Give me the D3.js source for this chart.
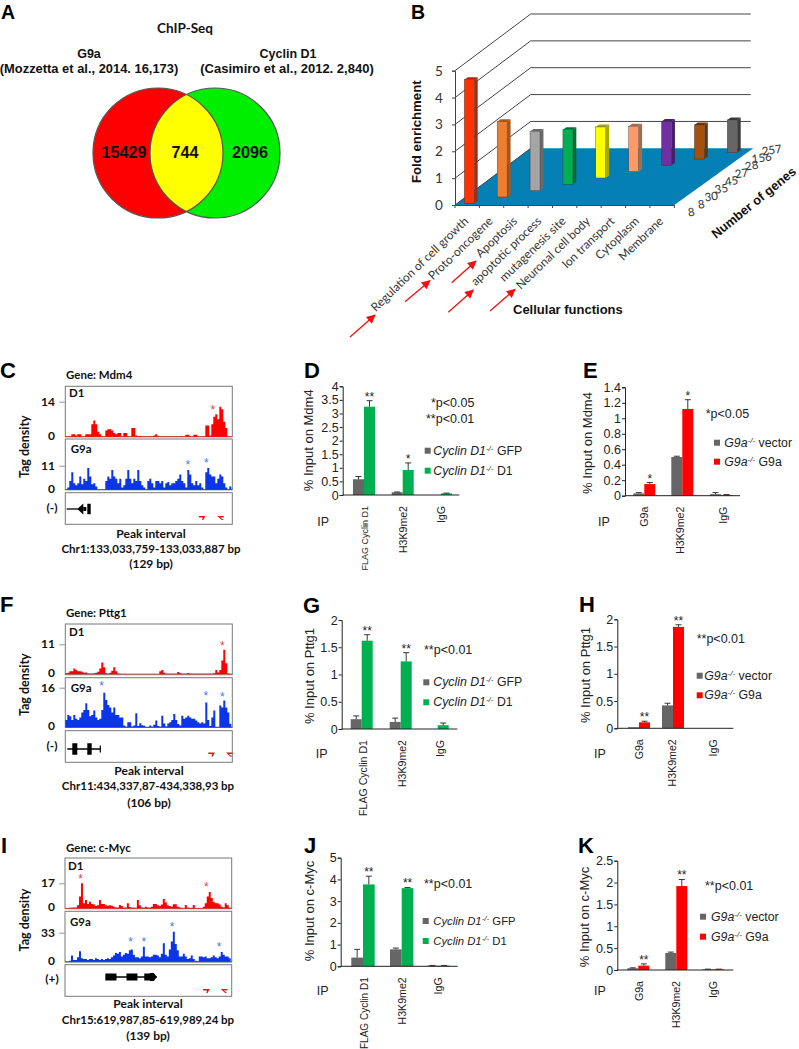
<!DOCTYPE html>
<html><head><meta charset="utf-8">
<script src="https://cdn.jsdelivr.net/npm/d3@7/dist/d3.min.js"></script>
<style>
html,body{margin:0;padding:0;background:#fff}
svg{display:block}
.ar{font-family:"Liberation Sans",Arial,sans-serif}
.la{font-family:Lato,sans-serif}
</style></head><body>
<script>
// ---------- Panel A ----------
const vennCounts = [15429, 744, 2096];
// ---------- Panel B ----------
const bCategories = ["Regulation of cell growth","Proto-oncogene","Apoptosis","apoptotic process","mutagenesis site","Neuronal cell body","Ion transport","Cytoplasm","Membrane"];
const bFold = [4.6,2.8,2.2,2.03,1.9,1.69,1.63,1.27,1.22];
const bGenes = ["8","8","30","35","45","27","28","156","257"];
const bFront = ["#ff3300","#ed7d31","#a5a5a5","#00b050","#ffff00","#ff9966","#7030a0","#a5500f","#666666"];
const bSide = ["#a82a10","#a55520","#6a6a6a","#0a6b35","#a8a800","#a86a48","#46206a","#6b3508","#3a3a3a"];
const bTicks = [0,1,2,3,4,5];
// ---------- Tag density tracks ----------
const cD1 = [0,0,0,1,1,.5,1,1,0,0, 1,1,1,5,6.5,5,2,1,0,0, 2.5,3,3,2.5,1.5,1,1.5,1.5,0,1.5, 1.5,0,0,3.5,3.5,.5,.2,.2,.2,0, .2,0,.2,0,.5,1,.2,0,0,.2, 0,.1,0,.1,0,.1,0,.1,.2,0, .8,.8,.2,0,.8,.8,0,0,0,0, 4.5,4.5,.5,5,8,9,7,12,11,6, 3.5,0,0,0];
const cG9a = [0,1,4,8,3,2,3,6,2.5,5, 4,10,6,2.5,3,1.5,0,0,0,0, 4,6,5,9,6,5,3,5,1,2, 5,9,5,3,5,4,9,4,2,1, 0,4,5,3,1,4,4,3,4,1, 3,3.5,2,3,3,4,5,7,4,3, 1,9,7,3,2,4,2,3,1,0, 8,10,7,6,6,3,5,7,6,3, 1,0,1.5,.5];
const fD1 = [.3,.5,1,1,2,1.5,1,1,.8,.5, .6,.2,.1,.1,.3,.5,.8,2,4.3,2.5, .3,.1,.5,1.2,2.5,1,.2,.1,0,0, 0,0,0,0,0,0,0,0,0,0, 0,0,0,0,0,0,0,1,1.5,.5, .1,.1,.1,.1,.1,.1,.7,.3,.1,.1, .1,.4,.1,.1,.1,.1,.1,.1,.1,.1, .1,.1,.1,.1,.3,1.5,.6,1.5,5,9, 4,.2,0,0];
const fG9a = [3,5,4.5,3,5,3.5,3,4,6,7, 9.7,7,4.5,5,6.8,4,3,3.5,7,14, 11,9,8,6,8,5,5,4,4,.7, .2,2,2,.3,.7,5.7,.5,1.6,.8,.6, .1,.1,.7,.2,1,2.7,.5,.2,4.7,1.5, .3,1.5,2,3,5.4,3,1.3,.7,4.7,3.5, 4,4.7,4,3.5,3.5,2.7,2,1.5,2,1.5, 10,3,.5,4,6.8,.1,.1,8.8,8,10.8, 8,6,1.4,0];
const iD1 = [0,0,.4,.4,.5,.6,2,8,17,3.4, 5.7,3,4.5,3,2.5,1.5,2,5.7,3,3, 2,1.8,2,1.8,1,.5,.5,2.3,1.5,.3, .5,3.4,.8,.3,.3,.3,5.7,2,.5,.3, 1,.5,.3,1,3,3,2,1.5,2.5,6.4, 4,2,1.5,1,2.7,2.7,1,.5,.2,.2, 2.3,.5,.2,.3,2.3,.2,.2,.1,.1,1, 3.4,8,11,7,4.5,3.4,3.4,2.5,1,.5, 3.4,2,.4,0];
const iG9a = [0,0,1,7,2,2,5,12,4,3, 3,2,3,3,2,4,3,2,3,2, 3,4,3,5,7,10,9,11,6,8, 10,9,13,14,8,5,5,4,6,17, 6,6,5,6,8,8,7,5,9,21, 8,6,14,23,34,20,13,6,6,9, 6,3,4,7,3,1,.5,6,6,5, 6,4,4,5,7,5,4,6,11,8, 6,6,4,1];
const cD1Stars = [[73.8,12]], cG9aStars = [[61.3,12.8],[70.5,13.7]];
const fD1Stars = [[78.5,11.5]], fG9aStars = [[18.2,17.7],[70.3,13.9],[78.5,13.4]];
const iD1Stars = [[7.8,21.8],[70.8,16.4]], iG9aStars = [[32.8,26],[39.5,26],[53.7,43],[77.2,19.7]];
// ---------- ChIP-qPCR bars ----------
const dCats = ["FLAG Cyclin D1","H3K9me2","IgG"], dGfp = [.58,.1,0], dGfpErr = [.68,.11,0], dRes = [3.25,.92,.06], dResErr = [3.47,1.18,.07], dSig = ["**","*",""];
const eCats = ["G9a","H3K9me2","IgG"], eGfp = [.03,.5,.02], eGfpErr = [.04,.51,.04], eRes = [.15,1.12,.01], eResErr = [.17,1.24,.015], eSig = ["*","*",""];
const gCats = ["FLAG Cyclin D1","H3K9me2","IgG"], gGfp = [.18,.13,0], gGfpErr = [.24,.2,0], gRes = [1.62,1.24,.07], gResErr = [1.73,1.4,.11], gSig = ["**","**",""];
const hCats = ["G9a","H3K9me2","IgG"], hGfp = [.02,.42,0], hGfpErr = [.02,.46,0], hRes = [.11,1.86,0], hResErr = [.13,1.9,0], hSig = ["**","**",""];
const jCats = ["FLAG Cyclin D1","H3K9me2","IgG"], jGfp = [.4,.78,.03], jGfpErr = [.78,.84,.04], jRes = [3.77,3.6,.03], jResErr = [4.15,3.63,.04], jSig = ["**","**",""];
const kCats = ["G9a","H3K9me2","IgG"], kGfp = [.04,.39,.015], kGfpErr = [.05,.41,.02], kRes = [.1,1.92,.015], kResErr = [.14,2.07,.02], kSig = ["**","**",""];

const svg = d3.select("body").append("svg").attr("width",799).attr("height",1049).attr("viewBox","0 0 799 1049");
function T(x,y,s,cls,size,opt={}){
  const t = svg.append("text").attr("x",x).attr("y",y).attr("class",cls).attr("font-size",size).text(s).attr("fill",opt.fill||"#111");
  if(opt.bold) t.attr("font-weight","bold");
  if(opt.anchor) t.attr("text-anchor",opt.anchor);
  if(opt.rot!==undefined) t.attr("transform",`rotate(${opt.rot} ${x} ${y})`);
  return t;
}
// Panel letters
[["A",1,18.5,19.5],["B",411,18.5,19.5],["C",0,378,22],["D",304,378,22],["E",583,378,22],["F",0,612,22],["G",303,612.7,22],["H",579,612,22],["I",1,853,22],["J",304,853,22],["K",578,853,22]]
  .forEach(d=>T(d[1],d[2],d[0],"ar",d[3],{bold:true,fill:"#000"}));

// ---------- A ----------
T(185,33,"ChIP-Seq","la",13.5,{bold:true,anchor:"middle"});
T(89,58,"G9a","ar",12.5,{bold:true,anchor:"middle"});
T(89,72.7,"(Mozzetta et al., 2014. 16,173)","ar",12.9,{bold:true,anchor:"middle"});
T(288,58,"Cyclin D1","ar",12.5,{bold:true,anchor:"middle"});
T(287,72.7,"(Casimiro et al., 2012. 2,840)","ar",13,{bold:true,anchor:"middle"});
const vx = d3.scaleLinear().domain([0,1]).range([158,215]);
const defs = svg.append("defs");
defs.append("clipPath").attr("id","vclip").append("circle").attr("cx",vx(0)).attr("cy",153).attr("r",65);
svg.append("circle").attr("cx",vx(0)).attr("cy",153).attr("r",65).attr("fill","#ff0000");
svg.append("circle").attr("cx",vx(1)).attr("cy",153).attr("r",65).attr("fill","#00ee00");
svg.append("circle").attr("cx",vx(1)).attr("cy",153).attr("r",65).attr("fill","#ffff00").attr("clip-path","url(#vclip)");
[0,1].forEach(i=>svg.append("circle").attr("cx",vx(i)).attr("cy",153).attr("r",65).attr("fill","none").attr("stroke","#555").attr("stroke-width",1.2));
[124,185,250].forEach((x,i)=>T(x,157.7,vennCounts[i],"ar",16.2,{bold:true,anchor:"middle",fill:"#111"}));

// ---------- B ----------
(function(){
  const yF = d3.scaleLinear().domain([0,5]).range([205,70.7]);     // front wall
  const yB = d3.scaleLinear().domain([0,5]).range([148.3,14]);     // back wall
  const xL=455, xB=530.7, xR=750.7, xF=674.3;
  svg.append("polygon").attr("points",[[xL,205],[xF,205],[753.3,148.3],[xB,148.3]].join(" ")).attr("fill","#0580b4");
  const wall="#444";
  bTicks.forEach(v=>{
    svg.append("line").attr("x1",xL).attr("y1",yF(v)).attr("x2",xB).attr("y2",yB(v)).attr("stroke",wall).attr("stroke-width",1);
    if(v>0) svg.append("line").attr("x1",xB).attr("y1",yB(v)).attr("x2",xR).attr("y2",yB(v)).attr("stroke",wall).attr("stroke-width",1);
    T(439,yF(v)+5,v,"la",13.5,{anchor:"middle",fill:"#333"});
  });
  const axisY = d3.axisLeft(yF).tickValues(bTicks).tickSize(3).tickFormat("");
  const ga = svg.append("g").attr("transform",`translate(${xL},0)`).call(axisY);
  ga.selectAll("path,line").attr("stroke",wall);
  const xC = d3.scaleBand().domain(bCategories).range([xL,xL+219.3]);
  const axisX = d3.axisBottom(xC).tickSize(0).tickFormat("");
  const gx = svg.append("g").attr("transform","translate(0,205)").call(axisX);
  gx.selectAll("path").attr("stroke",wall);
  d3.range(10).forEach(i=>svg.append("line").attr("x1",xL+i*xC.bandwidth()).attr("x2",xL+i*xC.bandwidth()).attr("y1",205).attr("y2",208).attr("stroke",wall));
  bCategories.forEach(c=>{
    const x = xC(c)+xC.bandwidth()/2+2, y=222;
    T(x,y,c,"la",11.9,{anchor:"end",rot:-44,fill:"#333"});
  });
  const bx = d3.scaleLinear().domain([0,8]).range([464.3,727.3]);
  const by = d3.scaleLinear().domain([0,8]).range([203.3,152.7]);
  const hu = 26.87, w=10, dx=3.4, dy=2.5;
  bFold.forEach((v,i)=>{
    const x=bx(i), b=by(i), t=b-v*hu;
    svg.append("polygon").attr("points",[[x+w,t],[x+w+dx,t-dy],[x+w+dx,b-dy],[x+w,b]].join(" ")).attr("fill",bSide[i]);
    svg.append("polygon").attr("points",[[x,t],[x+dx,t-dy],[x+w+dx,t-dy],[x+w,t]].join(" ")).attr("fill",bSide[i]);
    svg.append("rect").attr("x",x).attr("y",t).attr("width",w).attr("height",b-t).attr("fill",bFront[i]).attr("stroke","#333").attr("stroke-width",.4);
  });
  const gxS = d3.scaleLinear().domain([0,8]).range([691.7,772.3]);
  const gyS = d3.scaleLinear().domain([0,8]).range([216,154]);
  bGenes.forEach((g,i)=>T(gxS(i),gyS(i),g,"la",11.5,{anchor:"middle",rot:-8,fill:"#333"}));
  T(421,131.7,"Fold enrichment","ar",13.2,{bold:true,anchor:"middle",rot:-90});
  T(513,314,"Cellular functions","ar",13,{bold:true});
  T(756.5,206,"Number of genes","ar",12.8,{bold:true,anchor:"middle",rot:-39});
  const mk = defs.append("marker").attr("id","ah").attr("viewBox","0 0 10 10").attr("refX",9).attr("refY",5)
    .attr("markerWidth",11).attr("markerHeight",9).attr("markerUnits","userSpaceOnUse").attr("orient","auto");
  mk.append("path").attr("d","M0,0L10,5L0,10Z").attr("fill","#ee1111");
  [[350,337,375,315],[405,301.7,430,280.7],[451.7,282.7,476,261],[448.3,312.3,473.3,290],[490,311,515,289.3]].forEach(a=>{
    svg.append("line").attr("x1",a[0]).attr("y1",a[1]).attr("x2",a[2]).attr("y2",a[3]).attr("stroke","#ee1111").attr("stroke-width",1.3).attr("marker-end","url(#ah)");
  });
})();

// ---------- Tracks ----------
const X0=65.3, X1=232.3;
function track(vals, stars, color, starColor, name, box, base, tickPx, tickVal, labelPos){
  const x = d3.scaleLinear().domain([0,83.5]).range([box.x0||X0, box.x1||X1]);
  const y = d3.scaleLinear().domain([0,tickVal]).range([base,tickPx]);
  svg.append("rect").attr("x",x(0)).attr("y",box.t).attr("width",x(83.5)-x(0)).attr("height",box.b-box.t).attr("fill","#fff").attr("stroke","#777").attr("stroke-width",1);
  const area = d3.area().x((d,i)=>x(i)).y0(base).y1(d=>y(d)).curve(d3.curveStepAfter);
  svg.append("path").datum(vals.slice(0,84)).attr("d",area).attr("fill",color);
  svg.append("line").attr("x1",x(0)).attr("x2",x(83.5)).attr("y1",base).attr("y2",base).attr("stroke",color).attr("stroke-width",.6);
  const ax = d3.axisLeft(y).tickValues([0,tickVal]).tickSize(6).tickFormat("");
  const g = svg.append("g").attr("transform",`translate(${x(0)},0)`).call(ax);
  g.select("path").remove(); g.selectAll("line").attr("stroke","#999");
  g.selectAll(".tick").filter(d=>d===0).select("line").attr("stroke","none");
  T(55,y(0)+3,"0","la",12,{bold:true,anchor:"end"});
  T(55,y(tickVal)+4,tickVal,"la",12,{bold:true,anchor:"end"});
  T(labelPos[0],labelPos[1],name,"la",11.5,{bold:true});
  stars.forEach(s=>T(x(s[0]),y(s[1])+7,"*","ar",12,{anchor:"middle",fill:starColor}));
  return x;
}
function panelFooter(o){
  T(66,o.gene[0],o.gene[1],"la",11.5,{bold:true});
  T(29,o.tag,"Tag density","la",12.5,{bold:true,anchor:"middle",rot:-90});
  T(o.cx[0],o.lines[0],"Peak interval","la",12,{bold:true,anchor:"middle"});
  T(o.cx[1],o.lines[1],o.chr,"la",11.5,{bold:true,anchor:"middle"});
  T(o.cx[0],o.lines[2],o.bp,"la",12,{bold:true,anchor:"middle"});
  T(52,o.strand[0],o.strand[1],"la",12,{bold:true,anchor:"middle"});
}
function lower(x, box, marks, markY){
  svg.append("rect").attr("x",x(0)).attr("y",box.t).attr("width",x(83.5)-x(0)).attr("height",box.b-box.t).attr("fill","#fff").attr("stroke","#777");
  marks.forEach((m,k)=>{
    const a=x(m);
    const d = k===1
      ? `M${a},${markY}L${a+6.5},${markY}L${a+6.5},${markY+1.4}L${a+3},${markY+1.4}L${a+6.5},${markY+4}L${a+4.5},${markY+4}Z`
      : `M${a},${markY}L${a+6.5},${markY}L${a+4.5},${markY+4}L${a+3.2},${markY+4}L${a+3.8},${markY+1.4}L${a},${markY+1.4}Z`;
    svg.append("path").attr("d",d).attr("fill","#ee1111");
  });
}
// C
let xt = track(cD1,cD1Stars,"#ff0000","#e84050","D1",{t:386.3,b:436.7},436.7,401.7,14,[69,397]);
track(cG9a,cG9aStars,"#0b35e6","#4a78e0","G9a",{t:439,b:489.7},489.7,465.7,11,[70.7,453]);
lower(xt,{t:492.7,b:524.3},[66.8,76],516);
const line=(x1,x2,y,w=1.3)=>svg.append("line").attr("x1",x1).attr("x2",x2).attr("y1",y).attr("y2",y).attr("stroke","#000").attr("stroke-width",w);
const block=(x1,x2,yc,h)=>svg.append("rect").attr("x",x1).attr("width",x2-x1).attr("y",yc-h/2).attr("height",h).attr("fill","#000");
line(xt(.7),xt(6.5),509);
svg.append("path").attr("d",`M${xt(6)},509L${xt(9)},503.5L${xt(9)},514.5Z`).attr("fill","#000");
block(xt(9),xt(10.5),509,4);
block(xt(11),xt(12.7),509,10.5);
panelFooter({gene:[379,"Gene: Mdm4"],tag:446.7,cx:[151,151],lines:[537.7,553,568],chr:"Chr1:133,033,759-133,033,887 bp",bp:"(129 bp)",strand:[511.7,"(-)"]});
// F
xt = track(fD1,fD1Stars,"#ff0000","#e84050","D1",{t:624,b:674.7},674,644.3,11,[69,636]);
track(fG9a,fG9aStars,"#0b35e6","#4a78e0","G9a",{t:677.7,b:727.3},727.3,687.7,16,[70.7,692]);
lower(xt,{t:730.7,b:762.3},[71.5,80.3],752.5);
line(xt(1),xt(17.5),749);
svg.append("line").attr("x1",xt(17.5)).attr("x2",xt(17.5)).attr("y1",745.5).attr("y2",752.5).attr("stroke","#000").attr("stroke-width",1.2);
block(xt(3.5),xt(6),749,11.5);
block(xt(11),xt(13.2),749,11.5);
panelFooter({gene:[617,"Gene: Pttg1"],tag:684.7,cx:[149,148],lines:[775,790,806.7],chr:"Chr11:434,337,87-434,338,93 bp",bp:"(106 bp)",strand:[750,"(-)"]});
// I
xt = track(iD1,iD1Stars,"#ff0000","#e84050","D1",{t:858,b:908.7,x0:65,x1:231.7},908.3,883.3,17,[68,870]);
track(iG9a,iG9aStars,"#0b35e6","#4a78e0","G9a",{t:911.3,b:962,x0:65,x1:231.7},961.7,932.7,33,[70,926]);
lower(xt,{t:964.7,b:996.3},[69.2,78],989);
line(xt(24),xt(46),977);
block(xt(20.2),xt(25.8),977,7);
block(xt(30.8),xt(36.3),977,7);
block(xt(39.7),xt(43),977,7);
svg.append("path").attr("d",`M${xt(42.5)},973L${xt(44.5)},973L${xt(46)},977L${xt(44.5)},981L${xt(42.5)},981Z`).attr("fill","#000");
panelFooter({gene:[851.7,"Gene: c-Myc"],tag:920,cx:[148,148],lines:[1008,1024,1040],chr:"Chr15:619,987,85-619,989,24 bp",bp:"(139 bp)",strand:[983,"(+)"]});

// ---------- Bar panels ----------
function barPanel(o){
  const y = d3.scaleLinear().domain([0,o.max]).range([o.y0,o.yTop]);
  const x = d3.scaleOrdinal().domain(o.cats).range(o.centers);
  const w = o.w||11;
  const g = svg.append("g");
  o.cats.forEach((c,i)=>{
    [[o.a,o.aErr,"#666666",-w],[o.b,o.bErr,o.color,0]].forEach(s=>{
      const v=s[0][i], e=s[1][i], bx=x(c)+s[3];
      if(v<=0) return;
      g.append("rect").attr("x",bx).attr("width",w).attr("y",y(v)).attr("height",o.y0-y(v)).attr("fill",s[2]);
      if(e>v){
        g.append("line").attr("x1",bx+w/2).attr("x2",bx+w/2).attr("y1",y(v)).attr("y2",y(e)).attr("stroke","#222").attr("stroke-width",.9);
        g.append("line").attr("x1",bx+w/2-3).attr("x2",bx+w/2+3).attr("y1",y(e)).attr("y2",y(e)).attr("stroke","#222").attr("stroke-width",.9);
      }
    });
    if(o.sig[i]) T(x(c)+w/2,y(o.bErr[i]),o.sig[i],"ar",12,{anchor:"middle",fill:"#222"});
  });
  const ax = d3.axisLeft(y).tickValues(o.ticks).tickSize(3).tickFormat(d3.format("~g"));
  const ga = svg.append("g").attr("transform",`translate(${o.x0},0)`).call(ax);
  ga.selectAll("path,line").attr("stroke","#222");
  ga.selectAll("text").attr("class","ar").attr("font-size",o.tickSize||12.5).attr("font-family",'"Liberation Sans",Arial,sans-serif').attr("fill","#222").attr("x",-4);
  svg.append("line").attr("x1",o.x0).attr("x2",o.x1).attr("y1",o.y0).attr("y2",o.y0).attr("stroke","#222").attr("stroke-width",1);
  o.cats.forEach((c,i)=>{
    const fs = (c.startsWith("FLAG") && o.flagSize) ? o.flagSize : 10.6;
    T(o.labelX[i]+4,o.y0+11,c,"ar",fs,{anchor:"end",rot:-90,fill:"#222"});
  });
  T(o.yl[0],o.yl[1],o.ylabel,"ar",13,{anchor:"middle",rot:-90,fill:"#222"});
  T(o.ip[0],o.ip[1],"IP","ar",12.5,{fill:"#222"});
  o.p.forEach(p=>T(p[0],p[1],p[2],"ar",12.5,{fill:"#222"}));
  [[o.leg.y[0],"#666666",o.leg.t2[0]],[o.leg.y[1],o.color,o.leg.t2[1]]].forEach(l=>{
    svg.append("rect").attr("x",o.leg.sx).attr("y",l[0]-3).attr("width",6).attr("height",6).attr("fill",l[1]);
    const t = T(o.leg.tx,l[0]+4,"","ar",o.leg.fs||12.3,{fill:"#222"});
    t.append("tspan").attr("font-style","italic").text(o.leg.name);
    t.append("tspan").attr("font-size",8).attr("dy",-4).attr("font-style","italic").text("-/-");
    t.append("tspan").attr("dy",4).text(" "+l[2]);
  });
}
const CY={name:"Cyclin D1",t2:["GFP","D1"]}, G9={name:"G9a",t2:["vector","G9a"]};
barPanel({cats:dCats,a:dGfp,aErr:dGfpErr,b:dRes,bErr:dResErr,sig:dSig,color:"#00b050",max:4,ticks:[0,.5,1,1.5,2,2.5,3,3.5,4],
  y0:495,yTop:386.3,x0:342.7,x1:459.3,centers:[364,402.7,441],labelX:[364,402.7,440.7],flagSize:9,yl:[313,440.3],ylabel:"% Input on Mdm4",ip:[317.3,525.7],
  p:[[431,407.3,"*p<0.05"],[426,423.3,"**p<0.01"]],leg:{...CY,sx:424.7,tx:433.3,y:[450.7,470.7]}});
barPanel({cats:eCats,a:eGfp,aErr:eGfpErr,b:eRes,bErr:eResErr,sig:eSig,color:"#ff0000",max:1.4,ticks:[0,.2,.4,.6,.8,1,1.2,1.4],
  y0:495.7,yTop:387.3,x0:625,x1:740,centers:[644.3,682.3,721],labelX:[644.3,680,723],yl:[592,443],ylabel:"% Input on Mdm4",ip:[598,525.7],
  p:[[705.7,417.7,"*p<0.05"]],leg:{...G9,sx:714,tx:724.3,y:[442.7,461.7]}});
barPanel({cats:gCats,a:gGfp,aErr:gGfpErr,b:gRes,bErr:gResErr,sig:gSig,color:"#00b050",max:2,ticks:[0,.5,1,1.5,2],
  y0:729,yTop:620,x0:341.7,x1:457.3,centers:[361.7,400.7,437.7],labelX:[363,402,440],yl:[314,676],ylabel:"% Input on Pttg1",ip:[315.7,757.7],
  p:[[424,654.3,"**p<0.01"]],leg:{...CY,sx:423.3,tx:433.3,y:[682.3,702.3]}});
barPanel({cats:hCats,a:hGfp,aErr:hGfpErr,b:hRes,bErr:hResErr,sig:hSig,color:"#ff0000",max:2,ticks:[0,.5,1,1.5,2],
  y0:728.3,yTop:619.3,x0:617.3,x1:733.3,centers:[639,673,713],labelX:[639.3,672,713],yl:[590,675],ylabel:"% Input on Pttg1",ip:[594,757.7],
  p:[[696.7,643.3,"**p<0.01"]],leg:{...G9,sx:696.7,tx:704.3,y:[675.7,695.3]}});
barPanel({cats:jCats,a:jGfp,aErr:jGfpErr,b:jRes,bErr:jResErr,sig:jSig,color:"#00b050",max:5,ticks:[0,1,2,3,4,5],
  y0:966.3,yTop:857.7,x0:340.7,x1:457.7,centers:[363,401.7,438.3],labelX:[364,401.7,438.3],w:11.7,flagSize:10,yl:[314,911],ylabel:"% Input on c-Myc",ip:[316.7,995],
  p:[[424,887.7,"**p<0.01"]],leg:{...CY,sx:422.7,tx:433.3,fs:11.3,y:[921,941]}});
barPanel({cats:kCats,a:kGfp,aErr:kGfpErr,b:kRes,bErr:kResErr,sig:kSig,color:"#ff0000",max:2.5,ticks:[0,.5,1,1.5,2,2.5],
  y0:970,yTop:860.7,x0:617.3,x1:733.3,centers:[638.3,676.3,713.3],labelX:[639,675.5,713.3],yl:[589,917],ylabel:"% Input on c-Myc",ip:[594,995],
  p:[[705,890,"**p<0.01"]],leg:{...G9,sx:700,tx:711,y:[916.7,936.7]}});
</script>
</body></html>
